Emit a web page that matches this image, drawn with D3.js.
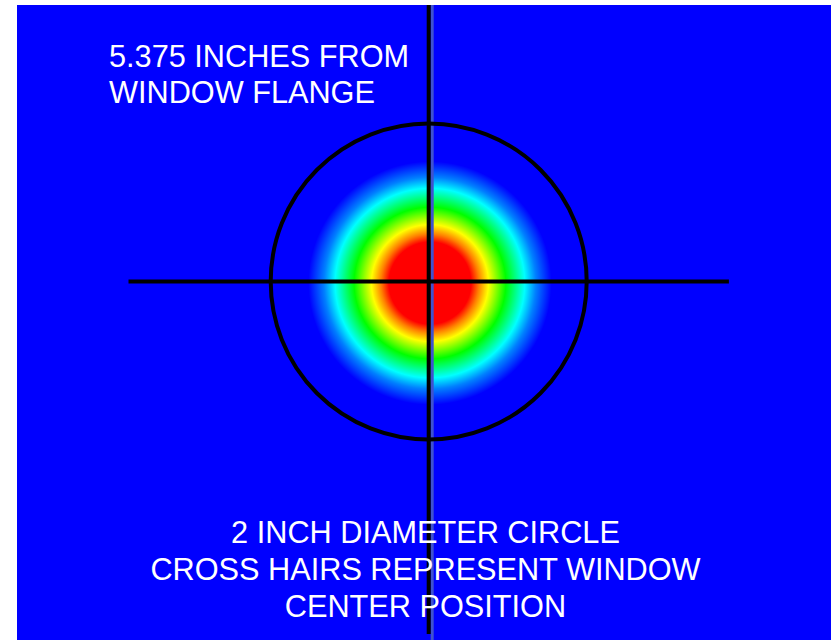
<!DOCTYPE html>
<html>
<head>
<meta charset="utf-8">
<script src="https://cdn.jsdelivr.net/npm/d3@7"></script>
<style>
  html, body { margin: 0; padding: 0; background: #ffffff; }
  svg { display: block; }
  text { font-family: "Liberation Sans", Arial, Helvetica, sans-serif; fill: #ffffff; }
</style>
</head>
<body>
<script>
// Beam intensity profile at the window (radius in inches from the beam axis,
// normalised level on the jet colour scale).
const profileRadius = [0, 0.26, 0.31, 0.37, 0.48, 0.6, 0.67, 0.77];
const profileLevel  = [0.875, 0.875, 0.75, 0.625, 0.5, 0.375, 0.25, 0.125];

// Beam axis relative to the window centre (inches).
const beamCenter = [0.008, -0.01];

// Reference circle (diameter, inches) and cross-hair half length (inches).
const circleDiameter = [2];
const crossHalfLength = [1.9];

// Jet colour map stops.
const jetLevels = [0, 0.125, 0.375, 0.5, 0.625, 0.875, 1];
const jetColors = ["#000080", "#0000ff", "#00ffff", "#00ff00", "#ffff00", "#ff0000", "#800000"];

const titleLines = ["5.375 INCHES FROM", "WINDOW FLANGE"];
const noteLines = ["2 INCH DIAMETER CIRCLE", "CROSS HAIRS REPRESENT WINDOW", "CENTER POSITION"];

const W = 831, H = 640;
const panel = { left: 17, top: 5, right: 831, bottom: 640 };
const origin = { x: 428.7, y: 281.5 };
const pxPerInch = 158;

const x = d3.scaleLinear().domain([-1, 1]).range([origin.x - pxPerInch, origin.x + pxPerInch]);
const y = d3.scaleLinear().domain([-1, 1]).range([origin.y + pxPerInch, origin.y - pxPerInch]);
const jet = d3.scaleLinear().domain(jetLevels).range(jetColors).interpolate(d3.interpolateRgb);

const svg = d3.select("body").append("svg").attr("width", W).attr("height", H);

// Background field (lowest level of the colour map)
svg.append("rect")
  .attr("x", panel.left).attr("y", panel.top)
  .attr("width", panel.right - panel.left).attr("height", panel.bottom - panel.top)
  .attr("fill", jet(profileLevel[profileLevel.length - 1]));

// Beam spot as a radial gradient built from the profile
const rMax = profileRadius[profileRadius.length - 1];
const grad = svg.append("defs").append("radialGradient")
  .attr("id", "beam").attr("cx", "50%").attr("cy", "50%").attr("r", "50%");
grad.selectAll("stop")
  .data(profileRadius.map((r, i) => ({ r, v: profileLevel[i] })))
  .join("stop")
  .attr("offset", d => (d.r / rMax * 100) + "%")
  .attr("stop-color", d => jet(d.v));

svg.append("circle")
  .attr("cx", x(beamCenter[0]))
  .attr("cy", y(beamCenter[1]))
  .attr("r", x(rMax) - x(0))
  .attr("fill", "url(#beam)");

// Vertical cross hair with its soft edge
svg.append("rect")
  .attr("x", x(0) + 2).attr("y", panel.top)
  .attr("width", 3).attr("height", panel.bottom - panel.top)
  .attr("fill", "#3f52cf");
svg.append("line")
  .attr("x1", x(0)).attr("x2", x(0))
  .attr("y1", panel.top).attr("y2", panel.bottom - 6)
  .attr("stroke", "#000").attr("stroke-width", 4);

// Horizontal cross hair
svg.append("line")
  .attr("x1", x(-crossHalfLength[0])).attr("x2", x(crossHalfLength[0]))
  .attr("y1", y(0)).attr("y2", y(0))
  .attr("stroke", "#000").attr("stroke-width", 4);

// 2 inch reference circle
svg.append("circle")
  .attr("cx", x(0)).attr("cy", y(0))
  .attr("r", x(circleDiameter[0] / 2) - x(0))
  .attr("fill", "none").attr("stroke", "#000").attr("stroke-width", 4);

// Annotations
svg.append("g").selectAll("text")
  .data(titleLines).join("text")
  .attr("x", 109)
  .attr("y", (d, i) => 67 + i * 36)
  .attr("font-size", 30.7)
  .text(d => d);

svg.append("g").selectAll("text")
  .data(noteLines).join("text")
  .attr("x", 425.5)
  .attr("y", (d, i) => 543 + i * 37)
  .attr("text-anchor", "middle")
  .attr("font-size", 30.7)
  .text(d => d);
</script>
</body>
</html>
